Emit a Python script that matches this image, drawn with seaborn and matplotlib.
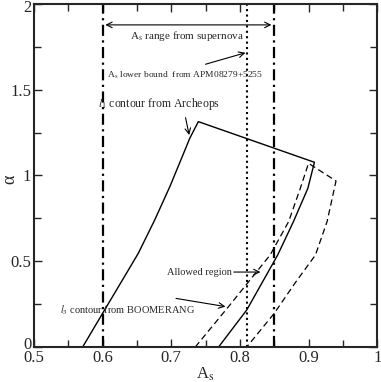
import numpy as np
import seaborn as sns
import matplotlib.pyplot as plt
import matplotlib.transforms as mtransforms

sns.set_style("ticks")
plt.rcParams['font.family'] = ['Liberation Serif', 'DejaVu Serif']
plt.rcParams['mathtext.fontset'] = 'stix'

# l1 contour from Archeops (left edge, top edge, right edge)
archeops_x = [0.571, 0.600, 0.652, 0.676, 0.698, 0.718, 0.727, 0.7395,
              0.9086, 0.899, 0.878, 0.855, 0.810, 0.769]
archeops_y = [0.0, 0.196, 0.546, 0.741, 0.935, 1.129, 1.217, 1.314,
              1.077, 0.925, 0.731, 0.536, 0.216, 0.0]

# l3 contour from BOOMERANG (dashed band)
boom_x = [0.735, 0.783, 0.844, 0.871, 0.888, 0.900, 0.940, 0.927, 0.910, 0.880, 0.850, 0.810]
boom_y = [0.0, 0.233, 0.536, 0.731, 0.925, 1.071, 0.968, 0.731, 0.536, 0.371, 0.196, 0.0]

# vertical bounds
supernova_bounds = [0.6, 0.85]
apm_bound = 0.81

fig = plt.figure(figsize=(3.81, 3.82), dpi=100)
ax = fig.add_axes([0.089, 0.0916, 0.901, 0.898])

sns.lineplot(x=archeops_x, y=archeops_y, sort=False, estimator=None, color='black', lw=1.0, ax=ax)
sns.lineplot(x=boom_x, y=boom_y, sort=False, estimator=None, color='black', lw=0.9,
             linestyle=(0, (5, 3)), ax=ax)

for xv in supernova_bounds:
    ax.axvline(xv, color='black', lw=1.6, linestyle=(0, (5, 2, 1, 2)))
ax.axvline(apm_bound, color='black', lw=1.5, linestyle=(0, (1, 1.6)))

ax.set_xlim(0.5, 1.0)
ax.set_ylim(0, 2)
ax.set_xticks([0.5, 0.6, 0.7, 0.8, 0.9, 1.0])
ax.set_xticklabels(['0.5', '0.6', '0.7', '0.8', '0.9', '1'])
ax.set_yticks([0, 0.5, 1, 1.5, 2])
ax.set_yticklabels(['0', '0.5', '1', '1.5', '2'])
ax.set_xticks(np.arange(0.55, 1.0, 0.1), minor=True)
ax.set_yticks([0.25, 0.75, 1.25, 1.75], minor=True)
ax.tick_params(which='both', direction='in', top=True, right=True, labelsize=12, width=1.0, pad=2)
ax.tick_params(which='major', length=6)
ax.tick_params(which='minor', length=5)
for s in ax.spines.values():
    s.set_linewidth(1.5)

# nudge the end labels like the original (0 sits a bit high, 2 a bit low)
ylabels = ax.get_yticklabels()
ylabels[0].set_transform(ylabels[0].get_transform() +
                         mtransforms.ScaledTranslation(0, 4 / 100, fig.dpi_scale_trans))
ylabels[-1].set_transform(ylabels[-1].get_transform() +
                          mtransforms.ScaledTranslation(0, -2 / 100, fig.dpi_scale_trans))

ax.set_xlabel('A$_\\mathrm{s}$', fontsize=12, labelpad=0)
ax.set_ylabel('α', fontsize=13)
ax.yaxis.set_label_coords(-0.045, 0.49)

arrow = dict(arrowstyle='->', color='black', lw=0.8)
ax.annotate('', xy=(0.6, 1.878), xytext=(0.85, 1.878),
            arrowprops=dict(arrowstyle='<->', color='black', lw=0.8))
ax.text(0.723, 1.813, 'A$_\\mathrm{s}$ range from supernova', fontsize=8, ha='center', va='center')

ax.text(0.607, 1.586, 'A$_\\mathrm{s}$ lower bound  from APM08279+5255', fontsize=6.8, ha='left', va='center')
ax.annotate('', xy=(0.812, 1.72), xytext=(0.746, 1.644), arrowprops=arrow)

ax.text(0.594, 1.417, '$l_1$ contour from Archeops', fontsize=8.5, ha='left', va='center')
ax.annotate('', xy=(0.727, 1.22), xytext=(0.72, 1.353), arrowprops=arrow)

ax.text(0.694, 0.437, 'Allowed region', fontsize=7.5, ha='left', va='center')
ax.annotate('', xy=(0.834, 0.437), xytext=(0.787, 0.437), arrowprops=arrow)

ax.text(0.538, 0.216, '$l_3$ contour from BOOMERANG', fontsize=7.5, ha='left', va='center')
ax.annotate('', xy=(0.783, 0.233), xytext=(0.703, 0.286), arrowprops=arrow)

fig.savefig('out.png', dpi=100)
